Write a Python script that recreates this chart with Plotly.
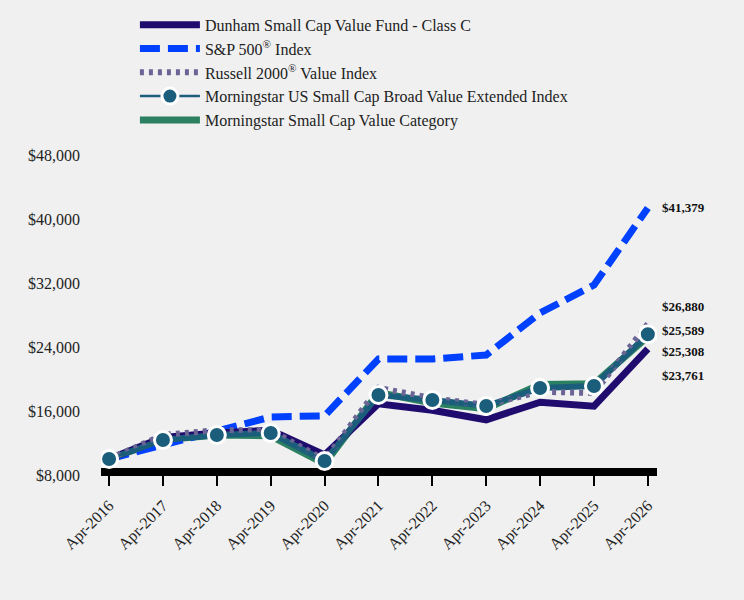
import plotly.graph_objects as go

years = ["Apr-2016", "Apr-2017", "Apr-2018", "Apr-2019", "Apr-2020", "Apr-2021",
         "Apr-2022", "Apr-2023", "Apr-2024", "Apr-2025", "Apr-2026"]
fund = [10000, 12700, 13250, 13600, 10500, 16900, 16100, 14900, 17100, 16600, 23761]
sp500 = [10000, 11750, 13600, 15250, 15400, 22500, 22500, 23000, 28250, 31750, 41379]
russell = [10000, 13000, 13600, 13600, 9900, 18900, 17600, 16750, 18400, 18250, 26880]
ms_index = [10000, 12375, 13000, 13250, 9750, 18000, 17375, 16625, 18875, 19125, 25589]
category = [10000, 12400, 13000, 12900, 9400, 18300, 17000, 16300, 19300, 19400, 25308]

names = ["Dunham Small Cap Value Fund - Class C", "S&P 500<sup>®</sup> Index",
         "Russell 2000<sup>®</sup> Value Index",
         "Morningstar US Small Cap Broad Value Extended Index",
         "Morningstar Small Cap Value Category"]

x = list(range(len(years)))
font_fam = "Liberation Serif, Times New Roman, serif"

fig = go.Figure()
fig.add_trace(go.Scatter(x=x, y=category, name=names[4], mode="lines",
                         line=dict(color="#2a8060", width=7), legendrank=5))
fig.add_trace(go.Scatter(x=x, y=sp500, name=names[1], mode="lines",
                         line=dict(color="#0040ff", width=7, dash="20px,8px"), legendrank=2))
fig.add_trace(go.Scatter(x=x, y=fund, name=names[0], mode="lines",
                         line=dict(color="#200c6f", width=7), legendrank=1))
fig.add_trace(go.Scatter(x=x, y=ms_index, name=names[3], mode="lines", showlegend=False,
                         line=dict(color="#1b5e7b", width=6), hoverinfo="skip"))
fig.add_trace(go.Scatter(x=x, y=russell, name=names[2], mode="lines",
                         line=dict(color="#6b6596", width=6, dash="4px,5px"), legendrank=3))
fig.add_trace(go.Scatter(x=x, y=ms_index, name=names[3], mode="lines+markers",
                         line=dict(color="#1b5e7b", width=2.5),
                         marker=dict(size=17, color="#1b5e7b", line=dict(color="white", width=3)),
                         legendrank=4))

# End labels (sorted top to bottom, nudged apart for legibility)
finals = [(sp500[-1], 0), (russell[-1], 17), (ms_index[-1], 4), (category[-1], -15), (fund[-1], -27)]
for val, ys in finals:
    fig.add_annotation(x=x[-1], y=val, text="<b>${:,}</b>".format(val), showarrow=False,
                       xanchor="left", yanchor="middle", xshift=12, yshift=ys,
                       font=dict(family=font_fam, size=13, color="#111"))

# Thick baseline bar along the bottom of the plot area
fig.add_shape(type="line", xref="paper", yref="paper", x0=0, x1=1, y0=0.0094, y1=0.0094,
              line=dict(color="black", width=8), layer="below")

fig.update_layout(
    width=744, height=600,
    paper_bgcolor="#f0f0f0", plot_bgcolor="#f0f0f0",
    margin=dict(l=101, r=87, t=155, b=125, autoexpand=False),
    font=dict(family=font_fam, size=16, color="#222"),
    showlegend=True,
    legend=dict(x=0.061, y=1.46, xanchor="left", yanchor="top", bgcolor="rgba(0,0,0,0)",
                font=dict(family=font_fam, size=16, color="#222"), tracegroupgap=0,
                itemwidth=60),
)
fig.update_xaxes(range=[-0.15, 10.17], tickmode="array", tickvals=x, ticktext=years,
                 tickangle=-45, showgrid=False, zeroline=False, showline=False,
                 ticks="outside", ticklen=10, tickwidth=2, ticklabelstandoff=4,
                 tickcolor="black", tickfont=dict(size=16, family=font_fam, color="#222"))
fig.update_yaxes(range=[8000, 48000], tickvals=[8000, 16000, 24000, 32000, 40000, 48000],
                 tickformat="$,.0f", showgrid=False, zeroline=False, showline=False,
                 ticklabelstandoff=20,
                 tickfont=dict(size=16, family=font_fam, color="#222"), ticks="")

fig.write_html("out.html")
